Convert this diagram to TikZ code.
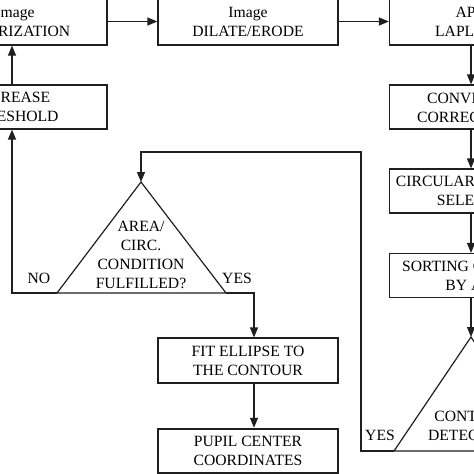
\documentclass[tikz,border=0pt]{standalone}
\usepackage{fontspec}
\setmainfont{Liberation Serif}
\usetikzlibrary{arrows.meta}
\begin{document}
\begin{tikzpicture}[x=1pt,y=-1pt,
  every node/.style={font=\fontsize{15.65}{19}\selectfont, text=black},
  box/.style={draw=black!88, line width=1.2pt, minimum width=180pt, minimum height=44pt, inner sep=0pt, align=center},
  arr/.style={draw=black!88, line width=1.2pt, -{Triangle[length=10pt,width=8pt]}},
  ln/.style={draw=black!88, line width=1.2pt, line join=miter},
  txt/.style={inner sep=0pt, align=center}]
\useasboundingbox (0,0) rectangle (474,474);
\clip (0,0) rectangle (474,474);

% boxes
\node[box, minimum width=184pt, minimum height=47pt] (bin) at (15,21.5) {Image\\BINARIZATION};
\node[box, minimum height=47pt] (dil) at (248,21.5) {Image\\DILATE/ERODE};
\node[box, minimum height=47pt] (lap) at (479.5,21.5) {APPLY\\LAPLACIAN};
\node[box, minimum width=190pt] (inc) at (12,107) {INCREASE\\THRESHOLD};
\node[box] (conv) at (479.5,107) {};
\node[txt, anchor=west] (convA) at (427,98) {CONVEX HULL};
\node[txt, anchor=west] (convB) at (417,117) {CORRECTION};
\node[box] (circ) at (479.5,191) {CIRCULAR CONTOURS\\SELECTION};
\node[box] (sort) at (479.5,275.5) {SORTING CONTOURS\\BY AREA};
\node[box, minimum height=45pt] (fit) at (248,360.5) {FIT ELLIPSE TO\\THE CONTOUR};
\node[box, line width=2.5pt, minimum height=44pt] (pup) at (248,451) {PUPIL CENTER\\COORDINATES};

% decision triangles
\coordinate (t1a) at (141,182);
\coordinate (t1l) at (57,293);
\coordinate (t1r) at (226,293);
\draw[ln] (t1a) -- (t1l) -- (t1r) -- cycle;
\node[txt] (t1) at (141,255) {AREA/\\CIRC.\\CONDITION\\FULFILLED?};

\coordinate (t2a) at (471,337);
\coordinate (t2l) at (394,451);
\coordinate (t2r) at (548,451);
\draw[ln] (t2a) -- (t2l) -- (t2r) -- cycle;
\node[txt] (t2) at (472,425.5) {CONTOUR\\DETECTED?};

% column guides
\coordinate (cl) at (12,0);
\coordinate (cm) at (254,0);
\coordinate (cr) at (471,0);
\coordinate (loopA) at (361,451);
\coordinate (loopB) at (361,152);

% connectors
\draw[arr] (bin.east) -- (dil.west);
\draw[arr] (dil.east) -- (lap.west);
\draw[arr] (lap.south -| cr) -- (conv.north -| cr);
\draw[arr] (conv.south -| cr) -- (circ.north -| cr);
\draw[arr] (circ.south -| cr) -- (sort.north -| cr);
\draw[arr] (sort.south -| cr) -- (t2a);
\draw[arr] (t2l) -- (loopA) -- (loopB) -- (loopB -| t1a) -- (t1a);
\draw[arr] (t1l) -- (t1l -| cl) -- (inc.south -| cl);
\draw[arr] (inc.north -| cl) -- (bin.south -| cl);
\draw[arr] (t1r) -- (t1r -| cm) -- (fit.north -| cm);
\draw[arr] (fit.south -| cm) -- (pup.north -| cm);

% labels
\node[txt] (no) at (39,278) {NO};
\node[txt] (yes1) at (237,278) {YES};
\node[txt] (yes2) at (380,435) {YES};
\end{tikzpicture}
\end{document}
